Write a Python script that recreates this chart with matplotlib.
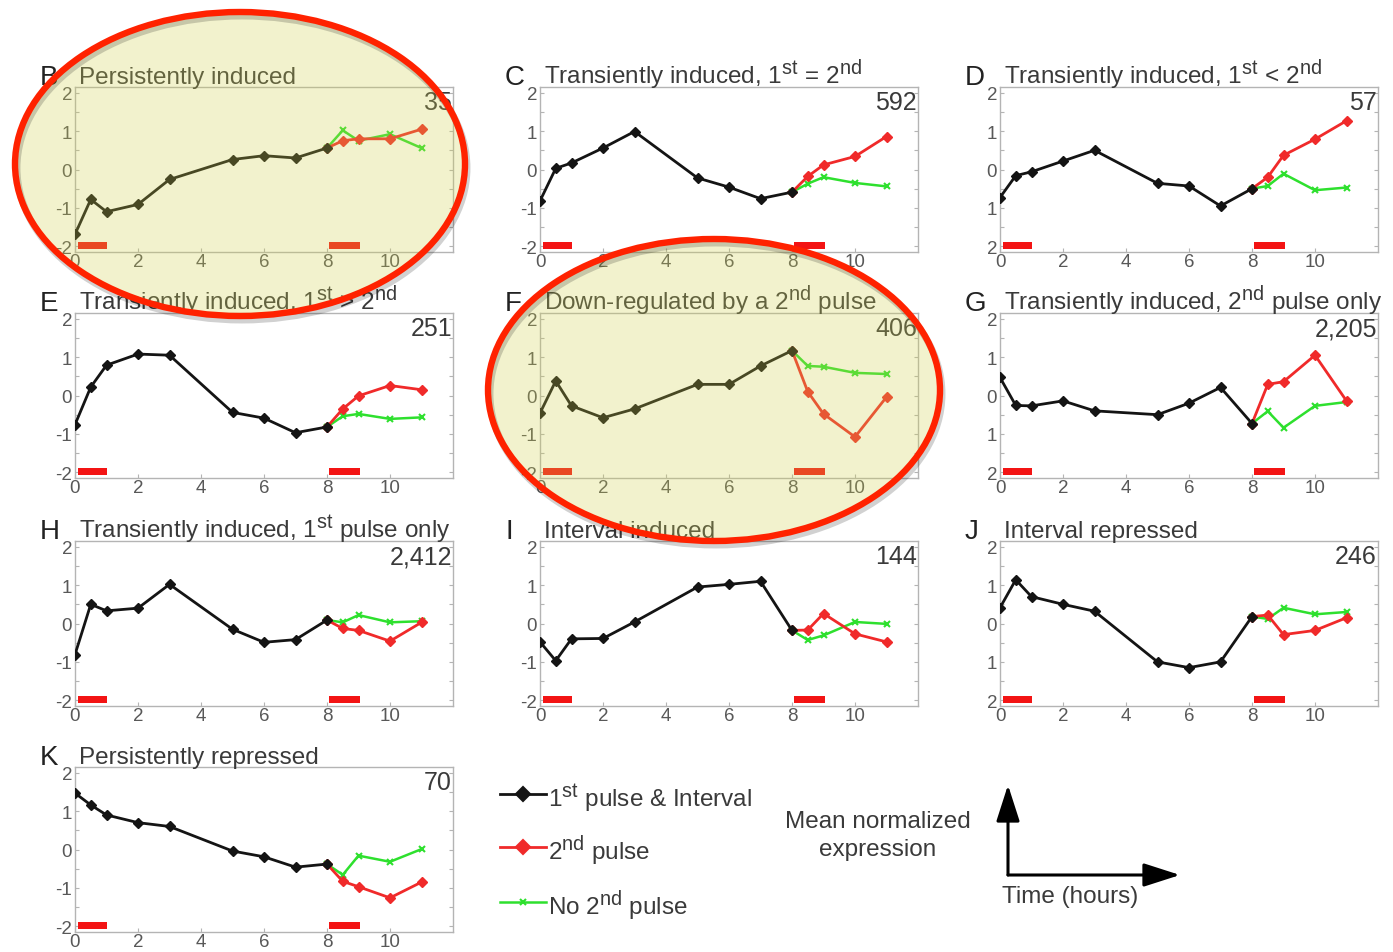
import matplotlib
matplotlib.use('Agg')
import matplotlib.pyplot as plt
from matplotlib.patches import Ellipse, FancyArrowPatch
from matplotlib.lines import Line2D
try:
    import matplotlib._mathtext as _mt
    _mt.SHRINK_FACTOR = 0.82
except Exception:
    pass

plt.rcParams['font.family'] = ['Liberation Sans', 'DejaVu Sans']
plt.rcParams['mathtext.fontset'] = 'custom'
plt.rcParams['mathtext.rm'] = 'Liberation Sans'
plt.rcParams['mathtext.it'] = 'Liberation Sans:italic'
plt.rcParams['mathtext.bf'] = 'Liberation Sans:bold'

W, H = 1393, 953

# ---------------- data ----------------
t_first = [0, 0.5, 1, 2, 3, 5, 6, 7, 8]
t_second = [8, 8.5, 9, 10, 11]
pulse_start = [0.1, 8.05]
pulse_len = [0.9, 1.0]

letters = ['B', 'C', 'D', 'E', 'F', 'G', 'H', 'I', 'J', 'K']
titles = [
    'Persistently induced',
    r'Transiently induced, 1$^{\mathrm{st}}$ = 2$^{\mathrm{nd}}$',
    r'Transiently induced, 1$^{\mathrm{st}}$ < 2$^{\mathrm{nd}}$',
    r'Transiently induced, 1$^{\mathrm{st}}$ > 2$^{\mathrm{nd}}$',
    r'Down-regulated by a 2$^{\mathrm{nd}}$ pulse',
    r'Transiently induced, 2$^{\mathrm{nd}}$ pulse only',
    r'Transiently induced, 1$^{\mathrm{st}}$ pulse only',
    'Interval induced',
    'Interval repressed',
    'Persistently repressed',
]
counts = ['35', '592', '57', '251', '406', '2,205', '2,412', '144', '246', '70']
yticklabels_std = ['-2', '-1', '0', '1', '2']
yticklabels_nominus = ['2', '1', '0', '1', '2']
panels_nominus = ['D', 'G', 'J']
yticks = [-2, -1, 0, 1, 2]
xticks = [0, 2, 4, 6, 8, 10]

B_first = [-1.69, -0.78, -1.10, -0.91, -0.26, 0.26, 0.36, 0.30, 0.56]
B_second = [0.56, 0.75, 0.80, 0.80, 1.05]
B_none = [0.56, 1.02, 0.75, 0.92, 0.56]

C_first = [-0.82, 0.03, 0.17, 0.56, 0.99, -0.22, -0.46, -0.76, -0.59]
C_second = [-0.59, -0.18, 0.12, 0.34, 0.86]
C_none = [-0.59, -0.37, -0.20, -0.35, -0.44]

D_first = [-0.73, -0.16, -0.06, 0.22, 0.50, -0.36, -0.43, -0.95, -0.50]
D_second = [-0.50, -0.20, 0.37, 0.79, 1.27]
D_none = [-0.50, -0.43, -0.11, -0.54, -0.47]

E_first = [-0.76, 0.22, 0.79, 1.08, 1.05, -0.44, -0.59, -0.97, -0.82]
E_second = [-0.82, -0.35, -0.01, 0.26, 0.15]
E_none = [-0.82, -0.54, -0.48, -0.61, -0.57]

F_first = [-0.46, 0.38, -0.27, -0.58, -0.35, 0.29, 0.29, 0.77, 1.17]
F_second = [1.17, 0.10, -0.48, -1.08, -0.04]
F_none = [1.17, 0.77, 0.75, 0.59, 0.56]

G_first = [0.47, -0.26, -0.27, -0.14, -0.40, -0.50, -0.20, 0.21, -0.73]
G_second = [-0.73, 0.29, 0.36, 1.05, -0.14]
G_none = [-0.73, -0.41, -0.84, -0.27, -0.17]

H_first = [-0.81, 0.50, 0.33, 0.40, 1.02, -0.15, -0.49, -0.42, 0.09]
H_second = [0.09, -0.13, -0.18, -0.46, 0.03]
H_none = [0.09, 0.03, 0.22, 0.03, 0.06]

I_first = [-0.48, -0.97, -0.40, -0.39, 0.04, 0.95, 1.02, 1.10, -0.18]
I_second = [-0.18, -0.17, 0.26, -0.27, -0.48]
I_none = [-0.18, -0.43, -0.31, 0.04, -0.01]

J_first = [0.41, 1.14, 0.70, 0.50, 0.32, -1.00, -1.15, -1.00, 0.18]
J_second = [0.18, 0.22, -0.29, -0.18, 0.15]
J_none = [0.18, 0.12, 0.41, 0.24, 0.30]

K_first = [1.47, 1.16, 0.90, 0.70, 0.60, -0.04, -0.19, -0.46, -0.38]
K_second = [-0.38, -0.83, -0.97, -1.26, -0.85]
K_none = [-0.38, -0.66, -0.16, -0.32, 0.01]

first_series = [B_first, C_first, D_first, E_first, F_first, G_first, H_first, I_first, J_first, K_first]
second_series = [B_second, C_second, D_second, E_second, F_second, G_second, H_second, I_second, J_second, K_second]
none_series = [B_none, C_none, D_none, E_none, F_none, G_none, H_none, I_none, J_none, K_none]

legend_labels = [r'1$^{\mathrm{st}}$ pulse & Interval', r'2$^{\mathrm{nd}}$ pulse', r'No 2$^{\mathrm{nd}}$ pulse']

# ---------------- style ----------------
BLACK = '#141414'
RED = '#f02a2a'
GREEN = '#2ee02e'
BAR_RED = '#f31414'
TXT = '#3a3a3a'
TICK = '#585858'
FRAME = '#b4b4b4'

fig = plt.figure(figsize=(W / 100, H / 100), dpi=100)
fig.patch.set_facecolor('white')

col_left = [75, 540, 1000]
row_top = [88, 314, 542, 768]
ax_w, ax_h = 378, 165
grid = [(0, 0), (0, 1), (0, 2), (1, 0), (1, 1), (1, 2), (2, 0), (2, 1), (2, 2), (3, 0)]

for i, (r, c) in enumerate(grid):
    left = col_left[c]
    top = row_top[r]
    ax = fig.add_axes([left / W, 1 - (top + ax_h) / H, ax_w / W, ax_h / H])
    ax.set_facecolor('none')
    ax.set_xlim(0, 12)
    ax.set_ylim(-2.15, 2.15)
    for sp in ax.spines.values():
        sp.set_color(FRAME)
        sp.set_linewidth(1.0)
    ax.set_xticks(xticks)
    ax.set_xticklabels([str(v) for v in xticks])
    ax.set_yticks(yticks)
    if letters[i] in panels_nominus:
        ax.set_yticklabels(yticklabels_nominus)
    else:
        ax.set_yticklabels(yticklabels_std)
    ax.set_yticks([-1.5, -0.5, 0.5, 1.5], minor=True)
    ax.tick_params(axis='both', which='both', direction='in', colors=FRAME,
                   labelcolor=TICK, labelsize=13.5, length=3, width=0.8,
                   right=True, top=False)
    ax.tick_params(axis='y', pad=2)
    ax.tick_params(axis='x', pad=1)

    # pulses
    ax.bar(pulse_start, [0.2, 0.2], width=pulse_len, bottom=-2.08, align='edge',
           color=BAR_RED, edgecolor='none', zorder=2)

    ax.plot(t_first, first_series[i], color=BLACK, lw=2.0, marker='D', ms=5.5,
            mfc=BLACK, mec=BLACK, zorder=4)
    ax.plot(t_second, none_series[i], color=GREEN, lw=1.8, marker='x', ms=4,
            mew=1.5, zorder=3)
    ax.plot(t_second, second_series[i], color=RED, lw=2.0, marker='D', ms=5.5,
            mfc=RED, mec=RED, zorder=3.5)

    # titles
    ax.text(-35 / ax_w, 1 + 3 / ax_h, letters[i], transform=ax.transAxes,
            fontsize=20, color='#222222', ha='left', va='baseline')
    ax.text(4 / ax_w, 1 + 4 / ax_h, titles[i], transform=ax.transAxes,
            fontsize=17.5, color=TXT, ha='left', va='baseline')
    ax.text(1 - 1 / ax_w, 1 - 3 / ax_h, counts[i], transform=ax.transAxes,
            fontsize=18, color=TXT, ha='right', va='top')

# ---------------- legend ----------------
leg_y = [795, 848, 903]
leg_color = [BLACK, RED, GREEN]
leg_marker = ['D', 'D', 'x']
for k in range(3):
    y = 1 - leg_y[k] / H
    fig.add_artist(Line2D([500 / W, 546 / W], [y, y], color=leg_color[k],
                          lw=2.0 if k < 2 else 1.8, transform=fig.transFigure))
    fig.add_artist(Line2D([523 / W], [y], color=leg_color[k], marker=leg_marker[k],
                          ms=7.5 if k < 2 else 4.5, mew=1.5, ls='none',
                          transform=fig.transFigure))
    fig.text(548 / W, 1 - (leg_y[k] + 12) / H, legend_labels[k], fontsize=17.5,
             color=TXT, ha='left', va='baseline')

fig.text(878 / W, 1 - 822 / H, 'Mean normalized', fontsize=17.5, color=TXT,
         ha='center', va='center')
fig.text(878 / W, 1 - 850 / H, 'expression', fontsize=17.5, color=TXT,
         ha='center', va='center')
fig.text(1002 / W, 1 - 897 / H, 'Time (hours)', fontsize=17.5, color=TXT,
         ha='left', va='center')

ox, oy = 1008 / W, 1 - 876 / H
fig.add_artist(FancyArrowPatch(
    (ox, oy), (ox, 1 - 786 / H), transform=fig.transFigure,
    arrowstyle='-|>,head_length=1.4,head_width=0.45', mutation_scale=16,
    color='black', lw=2.2, shrinkA=0, shrinkB=0))
fig.add_artist(FancyArrowPatch(
    (ox, oy), (1180 / W, oy), transform=fig.transFigure,
    arrowstyle='-|>,head_length=1.4,head_width=0.45', mutation_scale=16,
    color='black', lw=2.2, shrinkA=0, shrinkB=0))

# ---------------- highlight ellipses ----------------
for (cx, cy, ew, eh) in [(240, 165, 450, 304), (714, 391, 452, 302)]:
    fill = Ellipse((cx / W, 1 - cy / H), ew / W, eh / H, transform=fig.transFigure,
                   facecolor=(0.82, 0.82, 0.30), alpha=0.28, edgecolor='none', zorder=10)
    fig.add_artist(fill)
    shadow = Ellipse(((cx + 2) / W, 1 - (cy + 4) / H), ew / W, eh / H,
                     transform=fig.transFigure, facecolor='none',
                     edgecolor=(0, 0, 0, 0.18), lw=5, zorder=11)
    fig.add_artist(shadow)
    edge = Ellipse((cx / W, 1 - cy / H), ew / W, eh / H, transform=fig.transFigure,
                   facecolor='none', edgecolor='#ff2200', lw=4.6, zorder=12)
    fig.add_artist(edge)

fig.savefig('out.png', dpi=100)
